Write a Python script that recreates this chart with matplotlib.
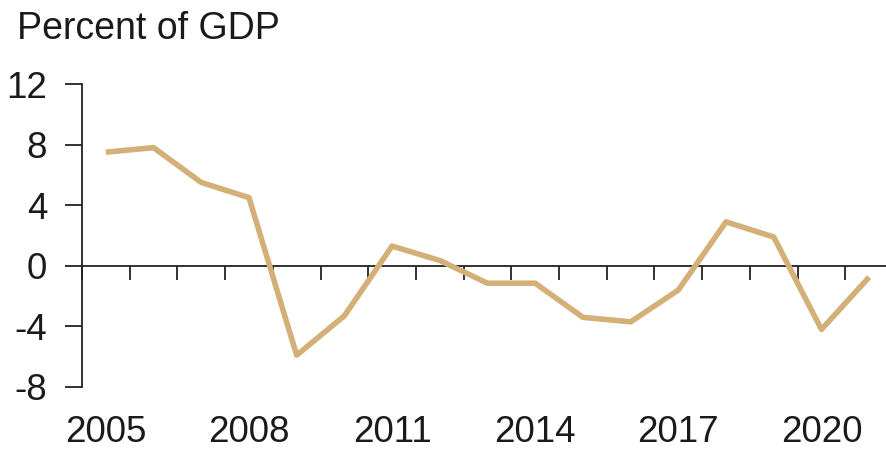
import numpy as np
import matplotlib
matplotlib.use("Agg")
from matplotlib import pyplot as plt
from matplotlib import transforms

plt.rcParams["font.family"] = ["Liberation Sans", "DejaVu Sans"]

years = list(range(2005, 2022))
values = [7.5, 7.8, 5.5, 4.5, -5.9, -3.3, 1.3, 0.35, -1.15, -1.15,
          -3.4, -3.7, -1.6, 2.9, 1.9, -4.2, -0.75]
label_years = [2005, 2008, 2011, 2014, 2017, 2020]
yticks = [-8, -4, 0, 4, 8, 12]

fig = plt.figure(figsize=(8.86, 4.49), dpi=100)
ax = fig.add_axes([82 / 886, 1 - 387 / 449, 811 / 886, 303 / 449])

x = np.arange(len(years))
ax.plot(x, values, color="#D4B078", lw=4.0, solid_capstyle="butt", zorder=3)

ax.set_xlim(-0.5, len(years) - 0.5)
ax.set_ylim(-8, 12)

for s in ["top", "right"]:
    ax.spines[s].set_visible(False)
ax.spines["bottom"].set_position(("data", 0))
ax.spines["bottom"].set_linewidth(1.3)
ax.spines["left"].set_linewidth(1.3)
ax.spines["left"].set_color("#222222")
ax.spines["bottom"].set_color("#222222")

ax.set_xticks(np.arange(-0.5, len(years), 1))
ax.tick_params(axis="x", direction="out", length=10, width=1.3,
               color="#222222", labelbottom=False)
ax.set_yticks(yticks)
ax.set_yticklabels([str(v) for v in yticks])
ax.tick_params(axis="y", direction="out", length=12, width=1.3,
               color="#222222", pad=13, labelsize=26.5, labelcolor="#1a1a1a")

trans = transforms.blended_transform_factory(ax.transData, ax.transAxes)
for yr in label_years:
    ax.text(years.index(yr), -0.149, str(yr), transform=trans, ha="center",
            va="center", fontsize=26.5, color="#1a1a1a")

fig.text(17 / 886, 1 - 39 / 449, "Percent of GDP", ha="left", va="baseline",
         fontsize=27, color="#1a1a1a")

fig.savefig("out.png", dpi=100)
